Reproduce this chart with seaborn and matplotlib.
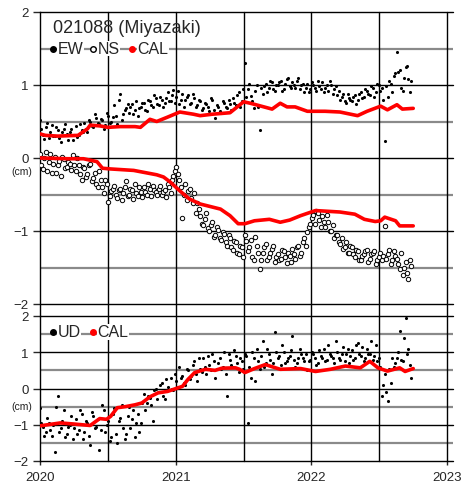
import numpy as np
import pandas as pd
import matplotlib
matplotlib.use("Agg")
import matplotlib.pyplot as plt
import seaborn as sns

# --- data (cm) ---
# daily solutions thinned to every 4 days: run "a" starts 2020-01-01, run "b" 2020-01-05
n_a, n_b = 126, 125
ew_a = [0.52, 0.32, 0.42, 0.28, 0.45, 0.30, 0.38, 0.22, 0.40, 0.33,
        0.36, 0.25, 0.44, 0.31, 0.39, 0.48, 0.35, 0.50, 0.42, 0.55,
        0.47, 0.52, 0.45, 0.58, 0.50, 0.72, 0.46, 0.88, 0.60, 0.68,
        0.62, 0.74, 0.66, 0.58, 0.70, 0.75, 0.64, 0.78, 0.70, 0.82,
        0.72, 0.80, 0.76, 0.90, 0.78, 0.93, 0.84, 0.74, 0.88, 0.80,
        0.86, 0.76, 0.82, 0.72, 0.78, 0.68, 0.74, 0.64, 0.80, 0.55,
        0.70, 0.62, 0.76, 0.68, 0.74, 0.82, 0.72, 0.90, 0.78, 1.30,
        0.94, 0.85, 0.68, 1.00, 0.38, 0.88, 1.02, 0.96, 1.04, 0.92,
        1.00, 1.06, 0.94, 1.08, 0.98, 1.04, 0.96, 1.10, 1.00, 0.90,
        1.02, 0.94, 1.00, 0.92, 0.98, 1.04, 0.96, 0.92, 1.00, 0.94,
        0.86, 0.80, 0.88, 0.76, 0.82, 0.78, 0.86, 0.80, 0.90, 0.84,
        0.92, 0.86, 0.96, 0.90, 1.00, 0.96, 0.23, 0.84, 1.02, 1.12,
        1.45, 1.20, 0.92, 1.24, 1.08, 1.06]
ew_b = [0.40, 0.26, 0.48, 0.35, 0.30, 0.42, 0.28, 0.36, 0.46, 0.24,
        0.40, 0.32, 0.29, 0.46, 0.36, 0.40, 0.52, 0.44, 0.60, 0.48,
        0.54, 0.40, 0.62, 0.48, 0.56, 0.58, 0.80, 0.52, 0.66, 0.74,
        0.70, 0.60, 0.78, 0.68, 0.76, 0.66, 0.80, 0.72, 0.86, 0.74,
        0.84, 0.70, 0.82, 0.78, 0.86, 0.76, 0.92, 0.80, 0.70, 0.84,
        0.74, 0.88, 0.70, 0.80, 0.66, 0.76, 0.70, 0.82, 0.66, 0.72,
        0.64, 0.78, 0.70, 0.80, 0.66, 0.76, 0.86, 0.70, 0.95, 0.84,
        1.02, 0.78, 0.92, 0.70, 0.96, 0.98, 0.90, 1.06, 0.94, 1.00,
        1.04, 0.92, 1.02, 1.10, 0.96, 1.00, 1.06, 0.94, 1.02, 0.96,
        0.90, 1.04, 0.96, 1.06, 0.94, 0.90, 1.00, 1.06, 0.88, 0.98,
        0.92, 0.84, 0.78, 0.88, 0.80, 0.84, 0.74, 0.88, 0.82, 0.94,
        0.88, 0.98, 0.84, 1.02, 0.92, 0.80, 0.98, 1.06, 0.90, 1.16,
        1.18, 0.96, 1.10, 1.26, 0.90]
ns_a = [0.05, -0.15, 0.08, -0.05, -0.20, 0.02, -0.10, -0.25, -0.02, -0.12,
        -0.08, 0.04, -0.18, -0.10, -0.30, -0.14, -0.22, -0.08, -0.28, -0.35,
        -0.18, -0.40, -0.30, -0.60, -0.45, -0.38, -0.55, -0.42, -0.48, -0.32,
        -0.50, -0.44, -0.36, -0.52, -0.46, -0.40, -0.50, -0.43, -0.38, -0.47,
        -0.42, -0.50, -0.44, -0.36, -0.48, -0.25, -0.12, -0.30, -0.82, -0.35,
        -0.45, -0.55, -0.48, -0.62, -0.80, -0.92, -0.75, -1.00, -0.88, -1.05,
        -0.98, -1.12, -1.04, -1.20, -1.10, -1.26, -1.15, -1.32, -1.22, -1.05,
        -1.28, -1.12, -1.40, -1.20, -1.52, -1.30, -1.18, -1.36, -1.25, -1.42,
        -1.32, -1.38, -1.28, -1.44, -1.34, -1.25, -1.38, -1.20, -1.30, -1.10,
        -1.02, -0.90, -0.78, -0.72, -0.85, -0.80, -0.95, -0.88, -1.00, -1.10,
        -1.05, -1.18, -1.25, -1.15, -1.30, -1.22, -1.35, -1.28, -1.40, -1.32,
        -1.26, -1.38, -1.30, -1.45, -1.35, -1.40, -0.93, -1.32, -1.45, -1.28,
        -1.38, -1.52, -1.60, -1.42, -1.66, -1.48]
ns_b = [-0.10, 0.00, -0.18, 0.06, -0.08, -0.20, -0.04, 0.02, -0.14, -0.06,
        -0.16, -0.10, 0.00, -0.22, -0.12, -0.26, -0.10, -0.32, -0.20, -0.40,
        -0.30, -0.48, -0.36, -0.52, -0.42, -0.50, -0.44, -0.58, -0.40, -0.52,
        -0.42, -0.56, -0.48, -0.40, -0.54, -0.46, -0.36, -0.52, -0.44, -0.50,
        -0.38, -0.46, -0.54, -0.40, -0.30, -0.18, -0.22, -0.40, -0.50, -0.58,
        -0.42, -0.62, -0.75, -0.70, -0.90, -0.84, -0.96, -0.92, -1.08, -0.95,
        -1.10, -1.02, -1.15, -1.05, -1.22, -1.14, -1.30, -1.20, -1.35, -1.14,
        -1.22, -1.35, -1.08, -1.30, -1.40, -1.22, -1.40, -1.30, -1.20, -1.36,
        -1.40, -1.26, -1.36, -1.30, -1.42, -1.32, -1.22, -1.34, -1.15, -1.20,
        -0.95, -0.82, -0.90, -0.76, -0.95, -0.88, -0.78, -1.00, -0.92, -1.05,
        -1.15, -1.10, -1.22, -1.30, -1.20, -1.32, -1.26, -1.40, -1.34, -1.28,
        -1.42, -1.32, -1.28, -1.40, -1.30, -1.34, -1.38, -1.26, -1.40, -1.34,
        -1.45, -1.30, -1.50, -1.58, -1.40]
ud_a = [-0.55, -1.05, -1.20, -0.95, -1.30, -1.75, -0.22, -1.10, -0.60, -1.25,
        -1.00, -1.40, -0.85, -1.15, -0.70, -1.20, -0.95, -1.55, -0.75, -1.05,
        -1.70, -0.45, -1.20, -0.90, -1.35, -0.55, -1.50, -0.80, -1.10, -1.25,
        -0.50, -0.85, -1.35, -0.70, -0.95, -0.15, -0.40, -0.25, -0.90, 0.00,
        -0.10, 0.15, -0.30, 0.05, 0.30, -0.05, 0.20, 0.60, 0.35, 0.10,
        0.50, 0.35, 0.75, 0.20, 0.55, 0.85, 0.40, 0.65, 0.95, 0.30,
        0.70, 0.55, 1.00, -0.20, 0.80, 0.60, 0.90, 0.45, 0.75, 0.95,
        -0.95, 0.30, 0.85, 1.10, 0.55, 1.30, 0.70, 0.95, 0.40, 1.55,
        0.85, 0.65, 1.00, 0.75, 0.90, 1.45, 0.60, 0.85, 0.95, 0.75,
        0.50, 0.80, 0.95, 0.65, 1.05, 0.85, 0.75, 1.20, 0.90, 0.70,
        1.00, 0.80, 1.15, 0.95, 0.70, 1.05, 0.85, 1.25, 0.90, 0.75,
        1.10, 0.95, 0.80, 1.20, 0.85, -0.20, 0.40, -0.35, 0.15, 0.60,
        0.85, 1.60, 0.75, 1.95, 1.10, 0.30]
ud_b = [-0.95, -1.30, -0.80, -1.15, -1.00, -0.50, -1.20, -0.90, -1.35, -1.05,
        -0.75, -1.10, -1.25, -0.60, -1.40, -0.90, -1.30, -0.65, -1.10, -0.85,
        -1.15, -0.60, -1.00, -1.45, -0.70, -1.25, -0.90, -0.45, -1.40, -0.75,
        -1.10, -0.60, -0.95, -1.20, -0.40, -0.60, -0.20, -0.45, -0.05, -0.30,
        0.10, -0.20, 0.25, -0.05, 0.00, 0.40, 0.05, 0.30, 0.15, 0.55,
        0.25, 0.65, 0.40, 0.85, 0.45, 0.60, 0.90, 0.50, 0.75, 0.55,
        0.85, 0.60, 0.40, 0.95, 0.65, 1.05, 0.70, 0.85, 0.55, 0.90,
        0.60, 1.00, 0.20, 0.75, 0.90, 0.60, 1.10, 0.80, 0.70, 1.00,
        0.90, 1.20, 0.70, 0.85, 1.05, 0.80, 0.70, 1.10, 0.85, 0.95,
        0.75, 1.00, 0.85, 0.70, 0.90, 1.10, 0.80, 0.95, 0.85, 1.30,
        0.85, 0.95, 0.75, 1.10, 0.90, 0.80, 1.20, 0.95, 1.15, 0.85,
        0.95, 1.30, 0.90, 0.75, 0.60, 0.10, -0.10, 0.55, 0.85, 0.70,
        1.00, 0.80, 1.40, 0.95, 0.65]

# calculated (model) curves
ew_cal_t = [2020.00, 2020.04, 2020.13, 2020.28, 2020.35, 2020.37, 2020.44, 2020.50, 2020.59, 2020.70,
            2020.74, 2020.81, 2020.86, 2020.94, 2021.03, 2021.13, 2021.18, 2021.27, 2021.40, 2021.50,
            2021.55, 2021.61, 2021.71, 2021.77, 2021.82, 2021.88, 2021.97, 2022.10, 2022.21, 2022.34,
            2022.41, 2022.51, 2022.56, 2022.63, 2022.67, 2022.75]
ew_cal = [0.33, 0.31, 0.30, 0.31, 0.40, 0.45, 0.44, 0.42, 0.43, 0.43,
          0.42, 0.53, 0.50, 0.56, 0.63, 0.60, 0.58, 0.60, 0.62, 0.77,
          0.75, 0.72, 0.67, 0.75, 0.70, 0.70, 0.64, 0.64, 0.63, 0.58,
          0.64, 0.71, 0.66, 0.73, 0.67, 0.68]
ns_cal_t = [2020.00, 2020.20, 2020.32, 2020.42, 2020.46, 2020.52, 2020.69, 2020.86, 2020.91, 2020.96,
            2021.03, 2021.10, 2021.18, 2021.33, 2021.40, 2021.46, 2021.51, 2021.58, 2021.69, 2021.77,
            2021.84, 2021.92, 2022.03, 2022.21, 2022.32, 2022.39, 2022.47, 2022.51, 2022.54, 2022.62,
            2022.65, 2022.75]
ns_cal = [0.00, -0.01, -0.01, -0.05, -0.14, -0.15, -0.17, -0.23, -0.26, -0.33,
          -0.45, -0.56, -0.63, -0.70, -0.79, -0.90, -0.90, -0.86, -0.84, -0.88,
          -0.85, -0.79, -0.72, -0.74, -0.77, -0.84, -0.87, -0.86, -0.81, -0.86,
          -0.93, -0.93]
ud_cal_t = [2020.00, 2020.15, 2020.25, 2020.37, 2020.44, 2020.49, 2020.52, 2020.57, 2020.63, 2020.70,
            2020.75, 2020.81, 2020.87, 2020.94, 2021.05, 2021.09, 2021.14, 2021.22, 2021.29, 2021.34,
            2021.44, 2021.47, 2021.51, 2021.58, 2021.66, 2021.77, 2021.92, 2022.03, 2022.14, 2022.25,
            2022.36, 2022.43, 2022.49, 2022.56, 2022.65, 2022.69, 2022.75]
ud_cal = [-1.03, -0.95, -0.98, -1.02, -0.83, -0.85, -0.77, -0.53, -0.50, -0.45,
          -0.40, -0.23, -0.12, -0.08, 0.06, 0.25, 0.44, 0.53, 0.50, 0.56,
          0.57, 0.53, 0.44, 0.55, 0.66, 0.53, 0.55, 0.47, 0.53, 0.62,
          0.57, 0.75, 0.57, 0.48, 0.57, 0.47, 0.55]

station = "021088 (Miyazaki)"
year_ticks = [2020, 2021, 2022, 2023]


def decimal_year(dates):
    return dates.year + (dates.dayofyear - 1) / np.where(dates.is_leap_year, 366, 365)


obs = pd.concat([
    pd.DataFrame({"t": decimal_year(pd.date_range("2020-01-01", periods=n_a, freq="8D")),
                  "EW": ew_a, "NS": ns_a, "UD": ud_a}),
    pd.DataFrame({"t": decimal_year(pd.date_range("2020-01-05", periods=n_b, freq="8D")),
                  "EW": ew_b, "NS": ns_b, "UD": ud_b}),
]).sort_values("t")

sns.set_style("white")
plt.rcParams["font.family"] = ["Liberation Sans", "DejaVu Sans"]

fig = plt.figure(figsize=(4.64, 4.85), dpi=100)
ax1 = fig.add_axes([40 / 464, 1 - 305 / 485, 413 / 464, 292 / 485])
ax2 = fig.add_axes([40 / 464, 1 - 462 / 485, 413 / 464, 145 / 485])

xmax = 2023.043
gap = 12 / 292


def frame(ax, cm_y, connect_below=False):
    ax.set_xlim(2020, xmax)
    ax.set_ylim(-2, 2)
    for v in [-1.5, -0.5, 0.5, 1.5]:
        ax.axhline(v, color="#8a8a8a", lw=1.6, zorder=1)
    for v in [-2, -1, 0, 1, 2]:
        ax.axhline(v, color="black", lw=1.0, zorder=1, clip_on=False)
    ymin = -gap if connect_below else 0
    for v in [2020.5, 2021, 2021.5, 2022, 2022.5, 2023]:
        ax.axvline(v, ymin=ymin, ymax=1, color="black", lw=1.0, zorder=1, clip_on=False)
    for s in ["top", "right", "bottom"]:
        ax.spines[s].set_visible(False)
    ax.spines["left"].set_color("black")
    ax.spines["left"].set_linewidth(1.0)
    if connect_below:
        ax.spines["left"].set_bounds(-2 - 4 * gap, 2)
    ax.set_yticks([-2, -1, 0, 1, 2])
    ax.set_yticklabels(["\u22122", "\u22121", "0", "1", "2"])
    ax.tick_params(axis="y", direction="out", length=5, width=1.0, pad=3, labelsize=9.5, left=True)
    ax.set_xlabel("")
    ax.set_ylabel("")
    ax.text(-18 / 413, cm_y, "(cm)", transform=ax.get_yaxis_transform(), fontsize=7.5,
            ha="center", va="center", color="#222222", clip_on=False)


def legend_item(ax, x, y, text, marker, color, face):
    ax.plot([x], [y], marker=marker, color=color, mfc=face, mec=color, ms=4,
            ls="none", zorder=6, clip_on=False)
    ax.text(x + 0.035, y, text, fontsize=11.5, va="center", ha="left", zorder=6,
            bbox=dict(facecolor="white", edgecolor="none", pad=0.3))


frame(ax1, -0.18, connect_below=True)
frame(ax2, -0.47)

# top: horizontal components
sns.scatterplot(data=obs, x="t", y="EW", ax=ax1, color="black", s=5, linewidth=0, zorder=3)
sns.scatterplot(data=obs, x="t", y="NS", ax=ax1, facecolor="white", edgecolor="black",
                s=10, linewidth=0.7, zorder=3)
sns.lineplot(x=ew_cal_t, y=ew_cal, ax=ax1, color="red", lw=2.6, sort=False, estimator=None, zorder=4)
sns.lineplot(x=ns_cal_t, y=ns_cal, ax=ax1, color="red", lw=2.6, sort=False, estimator=None, zorder=4)
ax1.set_xticks(year_ticks)
ax1.tick_params(axis="x", bottom=False, labelbottom=False)
ax1.set_xlabel("")
ax1.set_ylabel("")

ax1.text(2020.095, 1.79, station, fontsize=13, va="center", ha="left", zorder=6)
legend_item(ax1, 2020.096, 1.5, "EW", "o", "black", "black")
legend_item(ax1, 2020.39, 1.5, "NS", "o", "black", "white")
legend_item(ax1, 2020.68, 1.5, "CAL", "o", "red", "red")

# bottom: vertical component
sns.scatterplot(data=obs, x="t", y="UD", ax=ax2, color="black", s=5, linewidth=0, zorder=3)
sns.lineplot(x=ud_cal_t, y=ud_cal, ax=ax2, color="red", lw=2.6, sort=False, estimator=None, zorder=4)
ax2.set_xticks(year_ticks)
ax2.set_xticklabels([str(y) for y in year_ticks])
ax2.tick_params(axis="x", direction="out", length=3, width=1.0, pad=4, labelsize=9.5, bottom=True)
ax2.set_xlabel("")
ax2.set_ylabel("")

legend_item(ax2, 2020.096, 1.57, "UD", "o", "black", "black")
legend_item(ax2, 2020.39, 1.57, "CAL", "o", "red", "red")

fig.savefig("out.png", dpi=100)
